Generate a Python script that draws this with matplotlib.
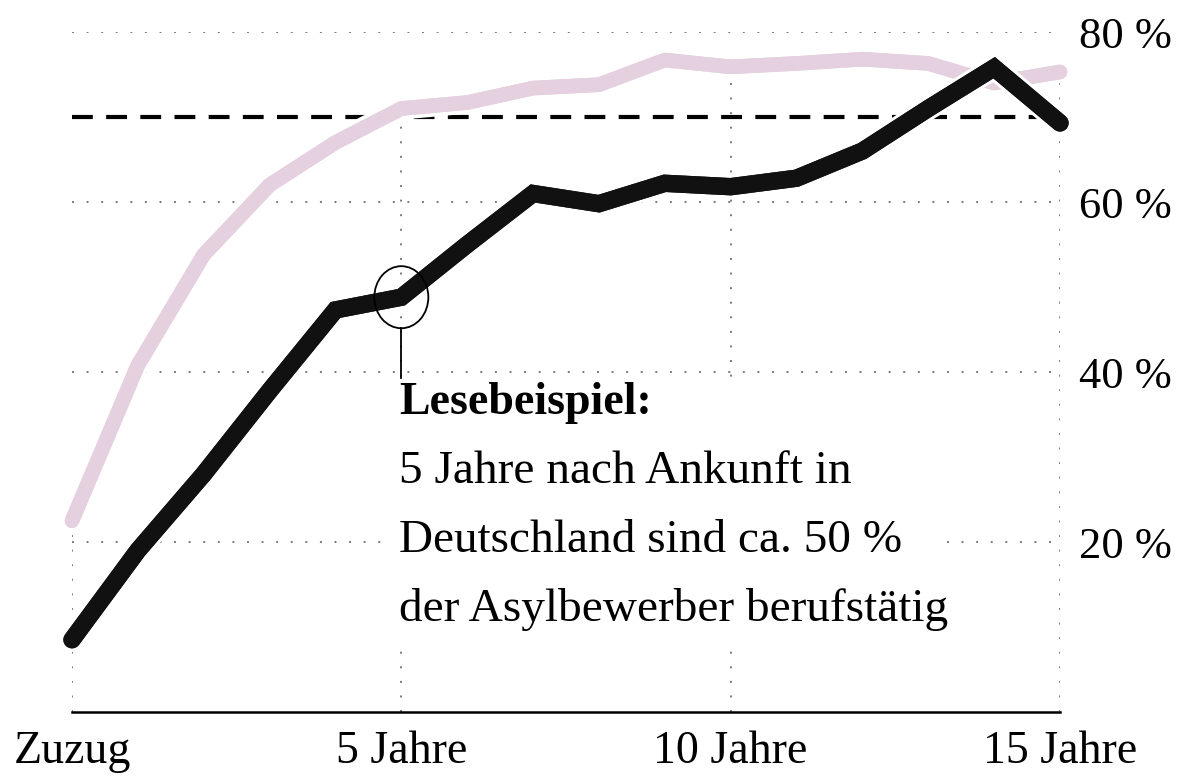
import matplotlib
matplotlib.use("Agg")
import matplotlib.pyplot as plt
import matplotlib.patheffects as pe
from matplotlib.patches import Ellipse, Rectangle

# --- Daten (Jahre nach Zuzug, Anteil berufstätig in %) ---
jahre = list(range(16))
asylbewerber = [8.5, 19, 28, 37.8, 47.3, 48.8, 55, 61, 59.8, 62.2, 61.8, 62.8, 66, 71, 75.8, 69.3]
vergleich = [22.5, 40.8, 53.8, 62, 67, 71, 71.7, 73.4, 73.8, 76.7, 75.9, 76.3, 76.8, 76.3, 74, 75.3]
referenz = 70
y_ticks = [20, 40, 60, 80]
y_labels = ["20 %", "40 %", "60 %", "80 %"]
x_ticks = [0, 5, 10, 15]
x_labels = ["Zuzug", "5 Jahre", "10 Jahre", "15 Jahre"]

plt.rcParams.update({
    'font.family': ['Liberation Serif', 'DejaVu Serif'],
    'font.size': 33,
})

fig = plt.figure(figsize=(11.84, 7.84), dpi=100)
ax = fig.add_axes([72 / 1184, 1 - 712 / 784, (1060 - 72) / 1184, (712 - 32) / 784])
ax.set_xlim(0, 15)
ax.set_ylim(0, 80)

for s in ['top', 'left', 'right']:
    ax.spines[s].set_visible(False)
ax.spines['bottom'].set_linewidth(1.8)
ax.spines['bottom'].set_zorder(6)

# Gitter (gepunktet)
grid_kw = dict(colors='#7a7a7a', linewidth=1.4, linestyles=(0, (1, 6.5)), zorder=1)
ax.hlines(y_ticks, 0, 15, **grid_kw)
ax.vlines(x_ticks, 0, [vergleich[x] for x in x_ticks], **grid_kw)

# Referenzlinie
ax.hlines(referenz, 0, 15, colors='black', linewidth=3, linestyles=(0, (5, 3.2)), zorder=2)

ax.plot(jahre, vergleich, color='#e4d0de', linewidth=10.5, solid_capstyle='round',
        solid_joinstyle='round', path_effects=[pe.withStroke(linewidth=16, foreground='white'), pe.Normal()],
        zorder=3, clip_on=False)
ax.plot(jahre, asylbewerber, color='#111111', linewidth=12.5, solid_capstyle='round',
        solid_joinstyle='miter', path_effects=[pe.withStroke(linewidth=17, foreground='white'), pe.Normal()],
        zorder=4, clip_on=False)

# Lesebeispiel
ax.add_patch(Ellipse((5, asylbewerber[5]), 0.82, 7.3, fill=False, edgecolor='black', linewidth=1.3, zorder=5))
ax.plot([5, 5], [asylbewerber[5] - 3.65, 39.3], color='black', linewidth=1.3, zorder=5)
ax.add_patch(Rectangle((4.78, 8.3), 8.4, 30.3, facecolor='white', edgecolor='none', zorder=2.5))
ax.text(4.97, 36.4, "Lesebeispiel:", fontsize=33, fontweight='bold', ha='left', va='center', zorder=6)
body = ["5 Jahre nach Ankunft in",
        "Deutschland sind ca. 50 %",
        "der Asylbewerber berufstätig"]
for i, line in enumerate(body):
    ax.text(4.97, 28.3 - i * 8.1, line, fontsize=34, ha='left', va='center', zorder=6)

# Achsenbeschriftung
ax.set_xticks(x_ticks)
ax.set_xticklabels(x_labels)
ax.yaxis.tick_right()
ax.set_yticks(y_ticks)
ax.set_yticklabels(y_labels)
ax.tick_params(axis='x', length=0, pad=13, labelsize=33)
ax.tick_params(axis='y', length=0, pad=14, labelsize=32)

fig.savefig("out.png", dpi=100, facecolor='white')
